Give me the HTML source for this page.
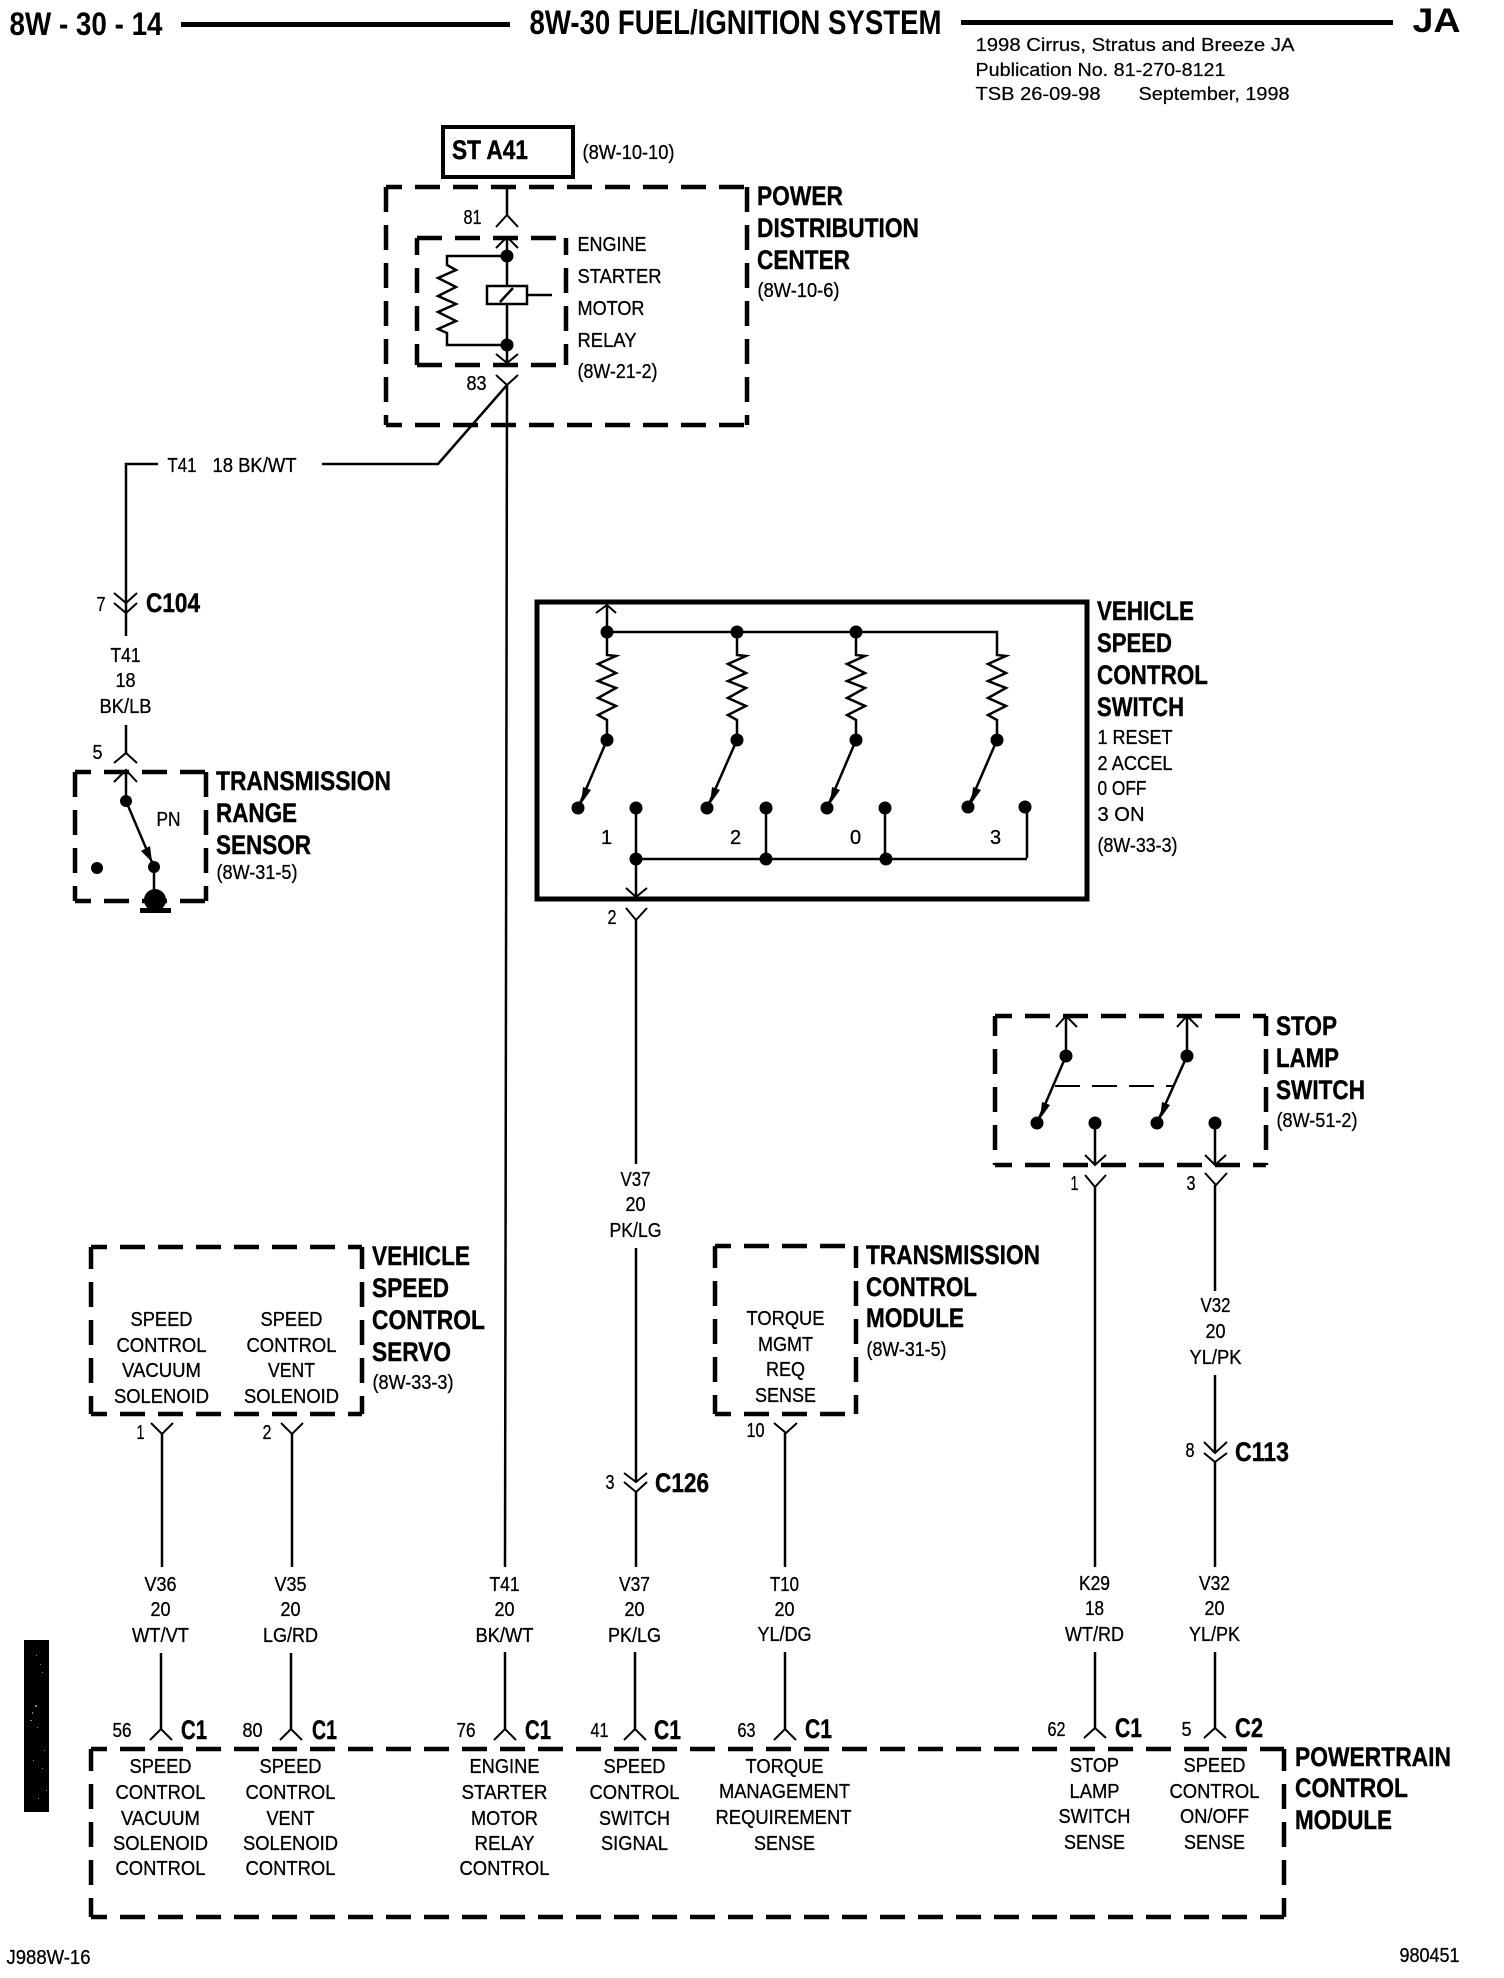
<!DOCTYPE html>
<html><head><meta charset="utf-8"><title>8W-30 Fuel/Ignition System</title>
<style>
html,body{margin:0;padding:0;background:#fff}
svg{display:block}
text{font-family:"Liberation Sans",Arial,sans-serif;fill:#000;transform:translate(-.5px,-1px)}
.r{font-size:20px;stroke:#000;stroke-width:.3}
.b{font-size:27px;font-weight:bold;stroke:#000;stroke-width:.4;transform:translate(-1px,-1px)}
.s{font-size:18px;stroke:#000;stroke-width:.2}
.m{text-anchor:middle}
.w{fill:none;stroke:#000;stroke-width:2.5;stroke-linejoin:miter}
.t{fill:none;stroke:#000;stroke-width:2}
.d{fill:none;stroke:#000;stroke-width:4.5;stroke-dasharray:25 13}
.h{stroke-dashoffset:9}
.e{fill:#000;stroke:none}
</style></head><body>
<svg width="1504" height="1978" viewBox="0 0 1504 1978" xmlns="http://www.w3.org/2000/svg">
<rect width="1504" height="1978" fill="#fff"/>

<!-- header -->
<rect class="e" x="181" y="22" width="329" height="5"/>
<rect class="e" x="961" y="20" width="432" height="5"/>
<text x="10" y="36" style="font-size:32px;font-weight:bold" textLength="153" lengthAdjust="spacingAndGlyphs">8W - 30 - 14</text>
<text x="530" y="35" style="font-size:34px;font-weight:bold" textLength="412" lengthAdjust="spacingAndGlyphs">8W-30 FUEL/IGNITION SYSTEM</text>
<text x="1413" y="33" style="font-size:34px;font-weight:bold" textLength="48" lengthAdjust="spacingAndGlyphs">JA</text>
<text class="s" x="976" y="52" textLength="319" lengthAdjust="spacingAndGlyphs">1998 Cirrus, Stratus and Breeze JA</text>
<text class="s" x="976" y="77" textLength="250" lengthAdjust="spacingAndGlyphs">Publication No. 81-270-8121</text>
<text class="s" x="976" y="101" textLength="125" lengthAdjust="spacingAndGlyphs">TSB 26-09-98</text>
<text class="s" x="1139" y="101" textLength="151" lengthAdjust="spacingAndGlyphs">September, 1998</text>

<!-- ST A41 -->
<rect x="443" y="127" width="130" height="50" fill="none" stroke="#000" stroke-width="4"/>
<text class="b" x="453" y="160" textLength="76" lengthAdjust="spacingAndGlyphs">ST A41</text>
<text class="r" x="583" y="160" textLength="92" lengthAdjust="spacingAndGlyphs">(8W-10-10)</text>

<!-- PDC -->
<path class="d h" d="M386,187H747M386,425H747"/>
<path class="d" d="M386,187V425M747,187V425"/>
<path class="d" d="M417,238H566M417,365H566"/>
<path class="d" d="M417,238V365M566,238V365" style="stroke-dashoffset:8"/>
<path class="w" d="M507,186V215M507,237V363"/>
<path class="t" d="M496,227L507,215L518,227M496,248L507,237L518,248M496,354L507,363L518,354M496,375L507,385L518,375"/>
<circle class="e" cx="507" cy="256" r="6.5"/><circle class="e" cx="507" cy="345" r="6.5"/>
<path class="w" d="M507,256H447V265L456,270L438,278L456,287L438,296L456,304L438,312L456,321L438,329L447,333V345H507"/>
<rect x="487" y="286" width="40" height="18" fill="#fff" stroke="#000" stroke-width="2.5"/>
<path class="w" d="M500,302L513,288M527,295H552"/>
<text class="b" x="758" y="206" textLength="86" lengthAdjust="spacingAndGlyphs">POWER</text>
<text class="b" x="758" y="238" textLength="162" lengthAdjust="spacingAndGlyphs">DISTRIBUTION</text>
<text class="b" x="758" y="270" textLength="93" lengthAdjust="spacingAndGlyphs">CENTER</text>
<text class="r" x="758" y="298" textLength="82" lengthAdjust="spacingAndGlyphs">(8W-10-6)</text>
<text class="r" x="578" y="252" textLength="69" lengthAdjust="spacingAndGlyphs">ENGINE</text>
<text class="r" x="578" y="284" textLength="84" lengthAdjust="spacingAndGlyphs">STARTER</text>
<text class="r" x="578" y="316" textLength="67" lengthAdjust="spacingAndGlyphs">MOTOR</text>
<text class="r" x="578" y="348" textLength="59" lengthAdjust="spacingAndGlyphs">RELAY</text>
<text class="r" x="578" y="379" textLength="80" lengthAdjust="spacingAndGlyphs">(8W-21-2)</text>
<text class="r" x="464" y="225" textLength="18" lengthAdjust="spacingAndGlyphs">81</text>
<text class="r" x="467" y="391" textLength="20" lengthAdjust="spacingAndGlyphs">83</text>

<!-- main wires -->
<path class="w" d="M507,385L505,1567"/>
<path class="w" d="M507,385L438,464H322M158,464H126V613"/>
<text class="r" x="168" y="473" textLength="29" lengthAdjust="spacingAndGlyphs">T41</text>
<text class="r" x="213" y="473" textLength="84" lengthAdjust="spacingAndGlyphs">18 BK/WT</text>

<!-- C104 -->
<path class="t" d="M114,593L126,603L137,593M114,603L126,613L137,603"/>
<path class="w" d="M126,613V636M126,725V753"/>
<text class="r" x="97" y="612" textLength="9" lengthAdjust="spacingAndGlyphs">7</text>
<text class="b" x="147" y="613" textLength="54" lengthAdjust="spacingAndGlyphs">C104</text>
<text class="r m" x="126" y="663" textLength="30" lengthAdjust="spacingAndGlyphs">T41</text>
<text class="r m" x="126" y="688" textLength="20" lengthAdjust="spacingAndGlyphs">18</text>
<text class="r m" x="126" y="714" textLength="52" lengthAdjust="spacingAndGlyphs">BK/LB</text>
<text class="r" x="93" y="760" textLength="10" lengthAdjust="spacingAndGlyphs">5</text>
<path class="t" d="M114,763L126,753L137,763M114,782L126,770L137,782"/>

<!-- Transmission range sensor -->
<path class="d h" d="M75,772H206M75,901H206"/>
<path class="d" d="M75,772V901M206,772V901"/>
<path class="w" d="M126,772V801L154,867V900"/>
<circle class="e" cx="126" cy="801" r="6"/><circle class="e" cx="154" cy="867" r="6"/><circle class="e" cx="97" cy="868" r="6"/>
<path class="e" d="M152,862L150,846L141,851Z"/>
<circle class="e" cx="155" cy="900" r="11"/><rect class="e" x="140" y="908" width="31" height="5"/>
<text class="r" x="157" y="827" textLength="24" lengthAdjust="spacingAndGlyphs">PN</text>
<text class="b" x="217" y="791" textLength="175" lengthAdjust="spacingAndGlyphs">TRANSMISSION</text>
<text class="b" x="217" y="823" textLength="81" lengthAdjust="spacingAndGlyphs">RANGE</text>
<text class="b" x="217" y="855" textLength="95" lengthAdjust="spacingAndGlyphs">SENSOR</text>
<text class="r" x="217" y="880" textLength="81" lengthAdjust="spacingAndGlyphs">(8W-31-5)</text>

<!-- Vehicle speed control switch -->
<rect x="537" y="602" width="550" height="297" fill="none" stroke="#000" stroke-width="5"/>
<path class="t" d="M596,613L607,605L616,613"/>
<path class="w" d="M607,605V652M607,632H997V652M737,632V652M856,632V652"/>
<circle class="e" cx="607" cy="632" r="6.5"/><circle class="e" cx="737" cy="632" r="6.5"/><circle class="e" cx="856" cy="632" r="6.5"/>
<path class="w" d="M607,652V655L616,656L598,664L616,673L598,681L616,688L598,698L616,706L598,715L607,720V740L578,808"/>
<path class="w" d="M737,652V655L746,656L728,664L746,673L728,681L746,688L728,698L746,706L728,715L737,720V740L707,808"/>
<path class="w" d="M856,652V655L865,656L847,664L865,673L847,681L865,688L847,698L865,706L847,715L856,720V740L827,808"/>
<path class="w" d="M997,652V655L1006,656L988,664L1006,673L988,681L1006,688L988,698L1006,706L988,715L997,720V740L968,807"/>
<circle class="e" cx="607" cy="740" r="6.5"/><circle class="e" cx="737" cy="740" r="6.5"/><circle class="e" cx="856" cy="740" r="6.5"/><circle class="e" cx="997" cy="740" r="6.5"/>
<path class="e" d="M581,804L583,787L591,790ZM710,804L712,787L720,790ZM830,804L832,787L840,790ZM971,804L973,787L981,790Z"/>
<circle class="e" cx="578" cy="808" r="6.5"/><circle class="e" cx="636" cy="808" r="6.5"/><circle class="e" cx="707" cy="808" r="6.5"/><circle class="e" cx="766" cy="808" r="6.5"/><circle class="e" cx="827" cy="808" r="6.5"/><circle class="e" cx="885" cy="808" r="6.5"/><circle class="e" cx="968" cy="807" r="6.5"/><circle class="e" cx="1025" cy="807" r="6.5"/>
<path class="w" d="M636,808V897M766,808V859M885,808V859M1027,807V858M636,859H1027"/>
<circle class="e" cx="636" cy="859" r="6.5"/><circle class="e" cx="766" cy="859" r="6.5"/><circle class="e" cx="886" cy="859" r="6.5"/>
<path class="t" d="M626,888L636,897L647,888M626,908L636,920L647,908"/>
<text class="r m" x="607" y="845">1</text><text class="r m" x="736" y="845">2</text><text class="r m" x="856" y="845">0</text><text class="r m" x="996" y="845">3</text>
<text class="r" x="608" y="925" textLength="9" lengthAdjust="spacingAndGlyphs">2</text>
<text class="b" x="1098" y="621" textLength="97" lengthAdjust="spacingAndGlyphs">VEHICLE</text>
<text class="b" x="1098" y="653" textLength="75" lengthAdjust="spacingAndGlyphs">SPEED</text>
<text class="b" x="1098" y="685" textLength="111" lengthAdjust="spacingAndGlyphs">CONTROL</text>
<text class="b" x="1098" y="717" textLength="87" lengthAdjust="spacingAndGlyphs">SWITCH</text>
<text class="r" x="1098" y="745" textLength="75" lengthAdjust="spacingAndGlyphs">1 RESET</text>
<text class="r" x="1098" y="771" textLength="75" lengthAdjust="spacingAndGlyphs">2 ACCEL</text>
<text class="r" x="1098" y="796" textLength="49" lengthAdjust="spacingAndGlyphs">0 OFF</text>
<text class="r" x="1098" y="822" textLength="47" lengthAdjust="spacingAndGlyphs">3 ON</text>
<text class="r" x="1098" y="853" textLength="80" lengthAdjust="spacingAndGlyphs">(8W-33-3)</text>

<!-- V37 wire -->
<path class="w" d="M636,920V1164M636,1248V1482M636,1492V1567"/>
<text class="r m" x="636" y="1187" textLength="30" lengthAdjust="spacingAndGlyphs">V37</text>
<text class="r m" x="636" y="1212" textLength="20" lengthAdjust="spacingAndGlyphs">20</text>
<text class="r m" x="636" y="1238" textLength="52" lengthAdjust="spacingAndGlyphs">PK/LG</text>
<path class="t" d="M624,1473L636,1482L647,1473M624,1482L636,1492L647,1482"/>
<text class="r" x="606" y="1490" textLength="9" lengthAdjust="spacingAndGlyphs">3</text>
<text class="b" x="656" y="1493" textLength="54" lengthAdjust="spacingAndGlyphs">C126</text>

<!-- Stop lamp switch -->
<path class="d" d="M995,1016H1266M995,1165H1266" style="stroke-dashoffset:8"/>
<path class="d" d="M995,1016V1165M1266,1016V1165" style="stroke-dashoffset:5"/>
<path class="t" d="M1056,1027L1066,1016L1077,1027M1177,1027L1187,1016L1198,1027"/>
<path class="w" d="M1066,1016V1056L1037,1123M1187,1016V1056L1157,1123M1095,1123V1165M1215,1123V1165"/>
<circle class="e" cx="1066" cy="1056" r="6.5"/><circle class="e" cx="1187" cy="1056" r="6.5"/><circle class="e" cx="1037" cy="1123" r="6.5"/><circle class="e" cx="1095" cy="1123" r="6.5"/><circle class="e" cx="1157" cy="1123" r="6.5"/><circle class="e" cx="1215" cy="1123" r="6.5"/>
<path class="e" d="M1040,1119L1042,1102L1050,1105ZM1160,1119L1162,1102L1170,1105Z"/>
<path class="t" d="M1055,1086H1173" style="stroke-dasharray:25 12"/>
<path class="t" d="M1085,1155L1095,1165L1106,1155M1205,1155L1215,1165L1226,1155M1085,1175L1095,1187L1106,1175M1205,1173L1216,1185L1227,1173"/>
<text class="r" x="1071" y="1191" textLength="8" lengthAdjust="spacingAndGlyphs">1</text>
<text class="r" x="1187" y="1191" textLength="9" lengthAdjust="spacingAndGlyphs">3</text>
<text class="b" x="1277" y="1036" textLength="61" lengthAdjust="spacingAndGlyphs">STOP</text>
<text class="b" x="1277" y="1068" textLength="63" lengthAdjust="spacingAndGlyphs">LAMP</text>
<text class="b" x="1277" y="1100" textLength="89" lengthAdjust="spacingAndGlyphs">SWITCH</text>
<text class="r" x="1277" y="1128" textLength="81" lengthAdjust="spacingAndGlyphs">(8W-51-2)</text>

<!-- stop lamp wires -->
<path class="w" d="M1095,1187V1567M1215,1185V1291M1215,1375V1453M1215,1462V1567"/>
<text class="r m" x="1216" y="1313" textLength="30" lengthAdjust="spacingAndGlyphs">V32</text>
<text class="r m" x="1216" y="1339" textLength="20" lengthAdjust="spacingAndGlyphs">20</text>
<text class="r m" x="1216" y="1365" textLength="52" lengthAdjust="spacingAndGlyphs">YL/PK</text>
<path class="t" d="M1204,1442L1215,1453L1227,1442M1204,1453L1215,1462L1227,1453"/>
<text class="r" x="1186" y="1458" textLength="9" lengthAdjust="spacingAndGlyphs">8</text>
<text class="b" x="1236" y="1462" textLength="54" lengthAdjust="spacingAndGlyphs">C113</text>

<!-- Servo -->
<path class="d h" d="M91,1247H362M91,1414H362"/>
<path class="d" d="M91,1247V1414M362,1247V1414" style="stroke-dashoffset:3"/>
<text class="r m" x="162" y="1327" textLength="62" lengthAdjust="spacingAndGlyphs">SPEED</text>
<text class="r m" x="162" y="1353" textLength="90" lengthAdjust="spacingAndGlyphs">CONTROL</text>
<text class="r m" x="162" y="1378" textLength="79" lengthAdjust="spacingAndGlyphs">VACUUM</text>
<text class="r m" x="162" y="1404" textLength="95" lengthAdjust="spacingAndGlyphs">SOLENOID</text>
<text class="r m" x="292" y="1327" textLength="62" lengthAdjust="spacingAndGlyphs">SPEED</text>
<text class="r m" x="292" y="1353" textLength="90" lengthAdjust="spacingAndGlyphs">CONTROL</text>
<text class="r m" x="292" y="1378" textLength="47" lengthAdjust="spacingAndGlyphs">VENT</text>
<text class="r m" x="292" y="1404" textLength="95" lengthAdjust="spacingAndGlyphs">SOLENOID</text>
<path class="t" d="M151,1423L162,1434L173,1423M281,1423L292,1434L303,1423"/>
<path class="w" d="M162,1434V1567M292,1434V1567"/>
<text class="r" x="137" y="1440" textLength="8" lengthAdjust="spacingAndGlyphs">1</text>
<text class="r" x="263" y="1440" textLength="9" lengthAdjust="spacingAndGlyphs">2</text>
<text class="b" x="373" y="1266" textLength="98" lengthAdjust="spacingAndGlyphs">VEHICLE</text>
<text class="b" x="373" y="1298" textLength="77" lengthAdjust="spacingAndGlyphs">SPEED</text>
<text class="b" x="373" y="1330" textLength="113" lengthAdjust="spacingAndGlyphs">CONTROL</text>
<text class="b" x="373" y="1362" textLength="79" lengthAdjust="spacingAndGlyphs">SERVO</text>
<text class="r" x="373" y="1390" textLength="81" lengthAdjust="spacingAndGlyphs">(8W-33-3)</text>

<!-- TCM -->
<path class="d h" d="M715,1246H856M715,1414H856"/>
<path class="d" d="M715,1246V1414M856,1246V1414" style="stroke-dashoffset:3"/>
<text class="r m" x="786" y="1326" textLength="78" lengthAdjust="spacingAndGlyphs">TORQUE</text>
<text class="r m" x="786" y="1352" textLength="55" lengthAdjust="spacingAndGlyphs">MGMT</text>
<text class="r m" x="786" y="1377" textLength="39" lengthAdjust="spacingAndGlyphs">REQ</text>
<text class="r m" x="786" y="1403" textLength="61" lengthAdjust="spacingAndGlyphs">SENSE</text>
<path class="t" d="M774,1423L786,1433L797,1423"/>
<path class="w" d="M785,1433V1567"/>
<text class="r" x="747" y="1438" textLength="18" lengthAdjust="spacingAndGlyphs">10</text>
<text class="b" x="867" y="1265" textLength="174" lengthAdjust="spacingAndGlyphs">TRANSMISSION</text>
<text class="b" x="867" y="1297" textLength="111" lengthAdjust="spacingAndGlyphs">CONTROL</text>
<text class="b" x="867" y="1328" textLength="98" lengthAdjust="spacingAndGlyphs">MODULE</text>
<text class="r" x="867" y="1357" textLength="80" lengthAdjust="spacingAndGlyphs">(8W-31-5)</text>

<!-- lower wire knock-outs -->
<rect x="120" y="1568" width="1120" height="84" fill="#fff"/>

<!-- lower wire labels -->
<text class="r m" x="161" y="1592" textLength="32" lengthAdjust="spacingAndGlyphs">V36</text>
<text class="r m" x="161" y="1617" textLength="20" lengthAdjust="spacingAndGlyphs">20</text>
<text class="r m" x="161" y="1643" textLength="57" lengthAdjust="spacingAndGlyphs">WT/VT</text>
<text class="r m" x="291" y="1592" textLength="32" lengthAdjust="spacingAndGlyphs">V35</text>
<text class="r m" x="291" y="1617" textLength="20" lengthAdjust="spacingAndGlyphs">20</text>
<text class="r m" x="291" y="1643" textLength="55" lengthAdjust="spacingAndGlyphs">LG/RD</text>
<text class="r m" x="505" y="1592" textLength="30" lengthAdjust="spacingAndGlyphs">T41</text>
<text class="r m" x="505" y="1617" textLength="20" lengthAdjust="spacingAndGlyphs">20</text>
<text class="r m" x="505" y="1643" textLength="58" lengthAdjust="spacingAndGlyphs">BK/WT</text>
<text class="r m" x="635" y="1592" textLength="31" lengthAdjust="spacingAndGlyphs">V37</text>
<text class="r m" x="635" y="1617" textLength="20" lengthAdjust="spacingAndGlyphs">20</text>
<text class="r m" x="635" y="1643" textLength="53" lengthAdjust="spacingAndGlyphs">PK/LG</text>
<text class="r m" x="785" y="1592" textLength="29" lengthAdjust="spacingAndGlyphs">T10</text>
<text class="r m" x="785" y="1617" textLength="20" lengthAdjust="spacingAndGlyphs">20</text>
<text class="r m" x="785" y="1642" textLength="54" lengthAdjust="spacingAndGlyphs">YL/DG</text>
<text class="r m" x="1095" y="1591" textLength="31" lengthAdjust="spacingAndGlyphs">K29</text>
<text class="r m" x="1095" y="1616" textLength="19" lengthAdjust="spacingAndGlyphs">18</text>
<text class="r m" x="1095" y="1642" textLength="59" lengthAdjust="spacingAndGlyphs">WT/RD</text>
<text class="r m" x="1215" y="1591" textLength="31" lengthAdjust="spacingAndGlyphs">V32</text>
<text class="r m" x="1215" y="1616" textLength="20" lengthAdjust="spacingAndGlyphs">20</text>
<text class="r m" x="1215" y="1642" textLength="51" lengthAdjust="spacingAndGlyphs">YL/PK</text>

<!-- lower wires and connectors -->
<path class="w" d="M161,1653V1729M291,1653V1729M505,1652V1729M635,1652V1729M785,1652V1729M1095,1652V1728M1215,1652V1728"/>
<path class="t" d="M150,1740L161,1729L172,1740M280,1740L291,1729L302,1740M494,1740L505,1729L516,1740M624,1740L635,1729L646,1740M774,1740L785,1729L796,1740M1084,1738L1095,1728L1106,1738M1204,1738L1215,1728L1226,1738"/>
<text class="r" x="113" y="1738" textLength="19" lengthAdjust="spacingAndGlyphs">56</text>
<text class="b" x="182" y="1740" textLength="26" lengthAdjust="spacingAndGlyphs">C1</text>
<text class="r" x="243" y="1738" textLength="20" lengthAdjust="spacingAndGlyphs">80</text>
<text class="b" x="313" y="1740" textLength="25" lengthAdjust="spacingAndGlyphs">C1</text>
<text class="r" x="457" y="1738" textLength="19" lengthAdjust="spacingAndGlyphs">76</text>
<text class="b" x="526" y="1740" textLength="26" lengthAdjust="spacingAndGlyphs">C1</text>
<text class="r" x="591" y="1738" textLength="18" lengthAdjust="spacingAndGlyphs">41</text>
<text class="b" x="655" y="1740" textLength="27" lengthAdjust="spacingAndGlyphs">C1</text>
<text class="r" x="738" y="1738" textLength="18" lengthAdjust="spacingAndGlyphs">63</text>
<text class="b" x="806" y="1739" textLength="27" lengthAdjust="spacingAndGlyphs">C1</text>
<text class="r" x="1048" y="1737" textLength="18" lengthAdjust="spacingAndGlyphs">62</text>
<text class="b" x="1116" y="1738" textLength="27" lengthAdjust="spacingAndGlyphs">C1</text>
<text class="r" x="1182" y="1737" textLength="10" lengthAdjust="spacingAndGlyphs">5</text>
<text class="b" x="1236" y="1738" textLength="28" lengthAdjust="spacingAndGlyphs">C2</text>

<!-- PCM -->
<path class="d h" d="M91,1749H1284M91,1917H1284"/>
<path class="d" d="M91,1749V1917M1284,1749V1917" style="stroke-dashoffset:3"/>
<text class="r m" x="161" y="1774" textLength="62" lengthAdjust="spacingAndGlyphs">SPEED</text>
<text class="r m" x="161" y="1800" textLength="90" lengthAdjust="spacingAndGlyphs">CONTROL</text>
<text class="r m" x="161" y="1826" textLength="79" lengthAdjust="spacingAndGlyphs">VACUUM</text>
<text class="r m" x="161" y="1851" textLength="95" lengthAdjust="spacingAndGlyphs">SOLENOID</text>
<text class="r m" x="161" y="1876" textLength="90" lengthAdjust="spacingAndGlyphs">CONTROL</text>
<text class="r m" x="291" y="1774" textLength="62" lengthAdjust="spacingAndGlyphs">SPEED</text>
<text class="r m" x="291" y="1800" textLength="90" lengthAdjust="spacingAndGlyphs">CONTROL</text>
<text class="r m" x="291" y="1826" textLength="48" lengthAdjust="spacingAndGlyphs">VENT</text>
<text class="r m" x="291" y="1851" textLength="95" lengthAdjust="spacingAndGlyphs">SOLENOID</text>
<text class="r m" x="291" y="1876" textLength="90" lengthAdjust="spacingAndGlyphs">CONTROL</text>
<text class="r m" x="505" y="1774" textLength="70" lengthAdjust="spacingAndGlyphs">ENGINE</text>
<text class="r m" x="505" y="1800" textLength="86" lengthAdjust="spacingAndGlyphs">STARTER</text>
<text class="r m" x="505" y="1826" textLength="67" lengthAdjust="spacingAndGlyphs">MOTOR</text>
<text class="r m" x="505" y="1851" textLength="60" lengthAdjust="spacingAndGlyphs">RELAY</text>
<text class="r m" x="505" y="1876" textLength="90" lengthAdjust="spacingAndGlyphs">CONTROL</text>
<text class="r m" x="635" y="1774" textLength="62" lengthAdjust="spacingAndGlyphs">SPEED</text>
<text class="r m" x="635" y="1800" textLength="90" lengthAdjust="spacingAndGlyphs">CONTROL</text>
<text class="r m" x="635" y="1826" textLength="71" lengthAdjust="spacingAndGlyphs">SWITCH</text>
<text class="r m" x="635" y="1851" textLength="67" lengthAdjust="spacingAndGlyphs">SIGNAL</text>
<text class="r m" x="785" y="1774" textLength="78" lengthAdjust="spacingAndGlyphs">TORQUE</text>
<text class="r m" x="785" y="1799" textLength="131" lengthAdjust="spacingAndGlyphs">MANAGEMENT</text>
<text class="r m" x="784" y="1825" textLength="136" lengthAdjust="spacingAndGlyphs">REQUIREMENT</text>
<text class="r m" x="785" y="1851" textLength="61" lengthAdjust="spacingAndGlyphs">SENSE</text>
<text class="r m" x="1095" y="1773" textLength="49" lengthAdjust="spacingAndGlyphs">STOP</text>
<text class="r m" x="1095" y="1799" textLength="50" lengthAdjust="spacingAndGlyphs">LAMP</text>
<text class="r m" x="1095" y="1824" textLength="72" lengthAdjust="spacingAndGlyphs">SWITCH</text>
<text class="r m" x="1095" y="1850" textLength="61" lengthAdjust="spacingAndGlyphs">SENSE</text>
<text class="r m" x="1215" y="1773" textLength="62" lengthAdjust="spacingAndGlyphs">SPEED</text>
<text class="r m" x="1215" y="1799" textLength="90" lengthAdjust="spacingAndGlyphs">CONTROL</text>
<text class="r m" x="1215" y="1824" textLength="69" lengthAdjust="spacingAndGlyphs">ON/OFF</text>
<text class="r m" x="1215" y="1850" textLength="61" lengthAdjust="spacingAndGlyphs">SENSE</text>
<text class="b" x="1296" y="1767" textLength="156" lengthAdjust="spacingAndGlyphs">POWERTRAIN</text>
<text class="b" x="1296" y="1798" textLength="113" lengthAdjust="spacingAndGlyphs">CONTROL</text>
<text class="b" x="1296" y="1830" textLength="97" lengthAdjust="spacingAndGlyphs">MODULE</text>

<!-- footer -->
<rect class="e" x="24" y="1640" width="25" height="172"/>
<g fill="#888"><rect x="36" y="1655" width="1" height="1"/><rect x="42" y="1672" width="1" height="1"/><rect x="35" y="1705" width="2" height="2"/><rect x="30" y="1720" width="2" height="1"/><rect x="44" y="1750" width="1" height="1"/><rect x="33" y="1760" width="1" height="1"/><rect x="46" y="1790" width="1" height="1"/><rect x="38" y="1798" width="1" height="1"/><rect x="40" y="1664" width="1" height="1"/><rect x="32" y="1712" width="1" height="2"/><rect x="37" y="1727" width="1" height="1"/><rect x="42" y="1768" width="1" height="1"/></g>
<text class="r" x="7" y="1965" textLength="84" lengthAdjust="spacingAndGlyphs">J988W-16</text>
<text class="r" x="1400" y="1963" textLength="60" lengthAdjust="spacingAndGlyphs">980451</text>
</svg>
</body></html>
